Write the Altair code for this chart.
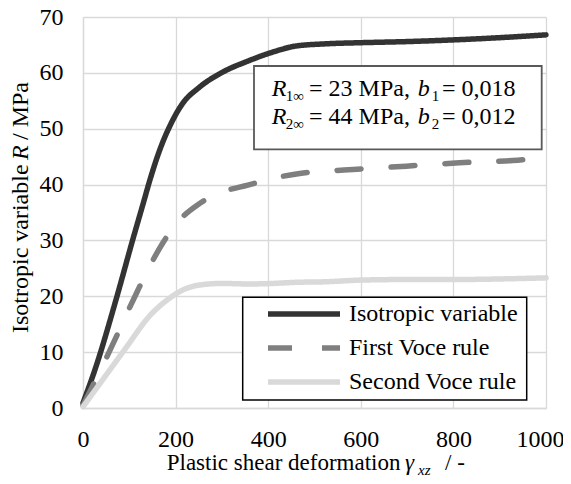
import altair as alt
import pandas as pd

FONT = "'Liberation Serif', 'Times New Roman', Times, 'DejaVu Serif', serif"

series_names = ["Isotropic variable", "First Voce rule", "Second Voce rule"]
series_colors = ["#333333", "#7f7f7f", "#d9d9d9"]
series_dash = [[1, 0], [24, 30], [1, 0]]

iso_x = [0, 28, 71, 107, 132, 143, 168, 190, 215, 251, 301, 359, 409, 460, 525, 600, 700, 800, 900, 1000]
iso_y = [0.9, 7.4, 19.3, 30.0, 37.2, 40.4, 46.7, 50.9, 54.5, 57.4, 60.1, 62.2, 63.7, 64.8, 65.2, 65.4, 65.6, 65.9, 66.3, 66.8]

voce1_x = [0, 46, 71, 93, 118, 143, 172, 208, 248, 302, 356, 410, 468, 525, 583, 640, 698, 755, 813, 870, 928, 1000]
voce1_y = [0.5, 8.2, 12.6, 16.6, 21.0, 25.2, 29.5, 33.6, 36.4, 38.7, 39.9, 41.1, 42.0, 42.4, 42.7, 43.0, 43.3, 43.6, 43.9, 44.1, 44.3, 44.8]

voce2_x = [0, 42, 93, 143, 186, 215, 251, 301, 359, 409, 460, 525, 600, 700, 800, 900, 1000]
voce2_y = [0.2, 5.0, 10.8, 16.4, 19.6, 21.1, 22.0, 22.3, 22.2, 22.3, 22.5, 22.6, 22.9, 23.0, 23.0, 23.1, 23.3]

x_ticks = [0, 200, 400, 600, 800, 1000]
y_ticks = [0, 10, 20, 30, 40, 50, 60, 70]

rows = []
for name, xs, ys in zip(series_names, [iso_x, voce1_x, voce2_x], [iso_y, voce1_y, voce2_y]):
    for i, (a, b) in enumerate(zip(xs, ys)):
        rows.append({"series": name, "gamma": a, "R": b, "order": i})
df = pd.DataFrame(rows)

legend_spec = alt.Legend(
    title=None, orient="none", legendX=182, legendY=280,
    symbolType="stroke", symbolSize=5184, symbolStrokeWidth=5.5,
    clipHeight=34, rowPadding=0, padding=0,
    labelFont=FONT, labelFontSize=24, labelColor="#000",
    labelOffset=6, labelLimit=400,
)

axis_common = dict(
    title=None, grid=True, gridColor="#d9d9d9", gridWidth=1.3,
    domainColor="#d9d9d9", domainWidth=1.3, ticks=False, format="d",
    labelFont=FONT, labelFontSize=24, labelColor="#000", labelFlush=False,
)

lines = alt.Chart(df).mark_line(
    strokeWidth=5.5, strokeCap="round", interpolate="monotone"
).encode(
    x=alt.X("gamma:Q", scale=alt.Scale(domain=[0, 1000], nice=False),
            axis=alt.Axis(values=x_ticks, labelPadding=19,
                          labelOffset={"condition": {"test": "datum.value == 1000", "value": -6}, "value": 0},
                          **axis_common)),
    y=alt.Y("R:Q", scale=alt.Scale(domain=[0, 70], nice=False),
            axis=alt.Axis(values=y_ticks, labelPadding=20, **axis_common)),
    color=alt.Color("series:N", sort=series_names,
                    scale=alt.Scale(domain=series_names, range=series_colors),
                    legend=legend_spec),
    strokeDash=alt.StrokeDash("series:N", sort=series_names,
                              scale=alt.Scale(domain=series_names, range=series_dash),
                              legend=legend_spec),
    order="order:Q",
)


def one():
    return alt.Data(values=[{}])


def box(x1, x2, y1, y2, stroke, sw):
    return alt.Chart(one()).mark_rect(fill="white", stroke=stroke, strokeWidth=sw).encode(
        x=alt.value(x1), x2=alt.value(x2), y=alt.value(y1), y2=alt.value(y2)
    )


def txt(text, x, y, size=24, style="normal", angle=0):
    return alt.Chart(one()).mark_text(
        text=text, font=FONT, fontSize=size, fontStyle=style, angle=angle,
        align="left", baseline="alphabetic", color="#000"
    ).encode(x=alt.value(x), y=alt.value(y))


layers = [
    box(171, 458.7, 49, 132.3, "#595959", 1.8),
    box(159.7, 443.7, 280.3, 383, "#000000", 1.5),
    lines,
    # annotation
    txt("R", 188.7, 79, style="italic"),
    txt("1\u221e", 202.7, 84, size=15),
    txt("= 23 MPa,", 226, 79),
    txt("b", 334.7, 79, style="italic"),
    txt("1", 348.7, 84, size=15),
    txt("= 0,018", 359, 79),
    txt("R", 188.7, 107, style="italic"),
    txt("2\u221e", 202.7, 112, size=15),
    txt("= 44 MPa,", 226, 107),
    txt("b", 334.7, 107, style="italic"),
    txt("2", 348.7, 112, size=15),
    txt("= 0,012", 359, 107),
    # x title
    txt("Plastic shear deformation", 83.7, 453, size=23),
    txt("\u03b3", 322, 453, size=23, style="italic"),
    txt("xz", 335, 458, size=15, style="italic"),
    txt("/ -", 362, 453, size=23),
    # y title
    txt("Isotropic variable", -55, 316, angle=270),
    txt("R", -55, 143, angle=270, style="italic"),
    txt("/ MPa", -55, 123, angle=270),
]

chart = alt.layer(*layers).properties(
    width=463, height=391,
    autosize=alt.AutoSizeParams(type="none"),
    padding={"left": 75, "top": 9, "right": 17, "bottom": 68},
).configure_view(stroke=None)

chart.save("out.html", embed_options={"renderer": "svg", "actions": False})
